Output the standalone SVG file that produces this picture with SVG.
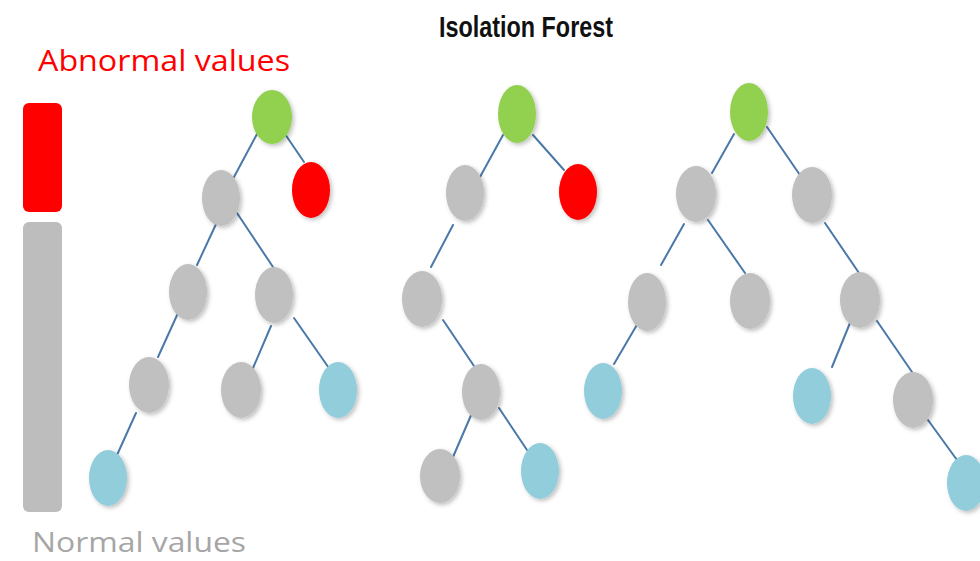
<svg xmlns="http://www.w3.org/2000/svg" width="980" height="561" viewBox="0 0 980 561">
  <defs>
    <filter id="soft" x="-40%" y="-40%" width="190%" height="190%">
      <feDropShadow dx="2" dy="2" stdDeviation="2" flood-color="#000" flood-opacity="0.25"/>
    </filter>
    <style>
      .title { font-family: "Liberation Sans", Arial, sans-serif; font-weight: bold; font-size: 30px; fill: #111; }
      .legend { font-family: "Open Sans", "Liberation Sans", sans-serif; font-size: 30px; }
      .root { fill: #92d050; }
      .inner { fill: #c0c0c0; }
      .anom { fill: #ff0000; }
      .leaf { fill: #92cddc; }
      .node ellipse { filter: url(#soft); }
      .edges line { stroke: #4a78a8; stroke-width: 2; stroke-linecap: round; }
    </style>
  </defs>

  <rect width="980" height="561" fill="#ffffff"/>

  <!-- heading -->
  <text class="title" x="439" y="37" textLength="174" lengthAdjust="spacingAndGlyphs">Isolation Forest</text>

  <!-- legend -->
  <g id="legend">
    <text class="legend" x="38" y="71" fill="#ff0000" textLength="252" lengthAdjust="spacingAndGlyphs">Abnormal values</text>
    <rect x="23" y="103" width="39" height="109" rx="6" fill="#ff0000"/>
    <rect x="23" y="222" width="39" height="290" rx="6" fill="#bdbdbd"/>
    <text class="legend" x="32" y="552" fill="#a6a6a6" style="font-size:28px" textLength="214" lengthAdjust="spacingAndGlyphs">Normal values</text>
  </g>

  <!-- connectors -->
  <g id="connectors" class="edges">
    <!-- tree 1 -->
    <line x1="257" y1="134" x2="234" y2="177"/>
    <line x1="285" y1="134" x2="304" y2="162"/>
    <line x1="217" y1="222" x2="197" y2="265"/>
    <line x1="237" y1="213" x2="273" y2="267"/>
    <line x1="178" y1="313" x2="158" y2="357"/>
    <line x1="271" y1="326" x2="253" y2="368"/>
    <line x1="294" y1="318" x2="331" y2="371"/>
    <line x1="136" y1="413" x2="117" y2="455"/>
    <!-- tree 2 -->
    <line x1="503" y1="135" x2="480" y2="177"/>
    <line x1="533" y1="135" x2="564" y2="170"/>
    <line x1="453" y1="225" x2="431" y2="267"/>
    <line x1="443" y1="320" x2="474" y2="366"/>
    <line x1="472" y1="413" x2="453" y2="457"/>
    <line x1="499" y1="408" x2="527" y2="450"/>
    <!-- tree 3 -->
    <line x1="734" y1="134" x2="712" y2="173"/>
    <line x1="767" y1="127" x2="802" y2="178"/>
    <line x1="684" y1="224" x2="661" y2="265"/>
    <line x1="708" y1="220" x2="745" y2="273"/>
    <line x1="825" y1="223" x2="859" y2="273"/>
    <line x1="638" y1="323" x2="614" y2="364"/>
    <line x1="850" y1="323" x2="832" y2="367"/>
    <line x1="877" y1="321" x2="912" y2="372"/>
    <line x1="928" y1="420" x2="957" y2="460"/>
  </g>

  <!-- tree 1 -->
  <g id="t1-root" class="node"><ellipse class="root" cx="272" cy="117" rx="20" ry="27"/></g>
  <g id="t1-a" class="node"><ellipse class="inner" cx="221" cy="198" rx="19" ry="28"/></g>
  <g id="t1-out" class="node"><ellipse class="anom" cx="311" cy="190" rx="19" ry="28"/></g>
  <g id="t1-b" class="node"><ellipse class="inner" cx="188" cy="292" rx="19" ry="28"/></g>
  <g id="t1-c" class="node"><ellipse class="inner" cx="274" cy="295" rx="19" ry="28"/></g>
  <g id="t1-d" class="node"><ellipse class="inner" cx="149" cy="385" rx="20" ry="28"/></g>
  <g id="t1-e" class="node"><ellipse class="inner" cx="241" cy="390" rx="20" ry="28"/></g>
  <g id="t1-f" class="node"><ellipse class="leaf" cx="338" cy="390" rx="19" ry="28"/></g>
  <g id="t1-g" class="node"><ellipse class="leaf" cx="108" cy="478" rx="19" ry="28"/></g>

  <!-- tree 2 -->
  <g id="t2-root" class="node"><ellipse class="root" cx="517" cy="114" rx="19" ry="29"/></g>
  <g id="t2-a" class="node"><ellipse class="inner" cx="465" cy="193" rx="19" ry="28"/></g>
  <g id="t2-out" class="node"><ellipse class="anom" cx="578" cy="192" rx="19" ry="28"/></g>
  <g id="t2-b" class="node"><ellipse class="inner" cx="422" cy="299" rx="20" ry="28"/></g>
  <g id="t2-c" class="node"><ellipse class="inner" cx="481" cy="392" rx="19" ry="28"/></g>
  <g id="t2-d" class="node"><ellipse class="inner" cx="440" cy="476" rx="20" ry="27"/></g>
  <g id="t2-e" class="node"><ellipse class="leaf" cx="540" cy="471" rx="19" ry="28"/></g>

  <!-- tree 3 -->
  <g id="t3-root" class="node"><ellipse class="root" cx="749" cy="112" rx="19" ry="29"/></g>
  <g id="t3-a" class="node"><ellipse class="inner" cx="696" cy="194" rx="20" ry="28"/></g>
  <g id="t3-b" class="node"><ellipse class="inner" cx="812" cy="195" rx="20" ry="28"/></g>
  <g id="t3-c" class="node"><ellipse class="inner" cx="647" cy="302" rx="19" ry="29"/></g>
  <g id="t3-d" class="node"><ellipse class="inner" cx="750" cy="301" rx="20" ry="28"/></g>
  <g id="t3-e" class="node"><ellipse class="inner" cx="860" cy="300" rx="20" ry="28"/></g>
  <g id="t3-f" class="node"><ellipse class="leaf" cx="603" cy="391" rx="19" ry="28"/></g>
  <g id="t3-g" class="node"><ellipse class="leaf" cx="812" cy="396" rx="19" ry="28"/></g>
  <g id="t3-h" class="node"><ellipse class="inner" cx="913" cy="400" rx="20" ry="28"/></g>
  <g id="t3-i" class="node"><ellipse class="leaf" cx="966" cy="483" rx="19" ry="28"/></g>
</svg>
